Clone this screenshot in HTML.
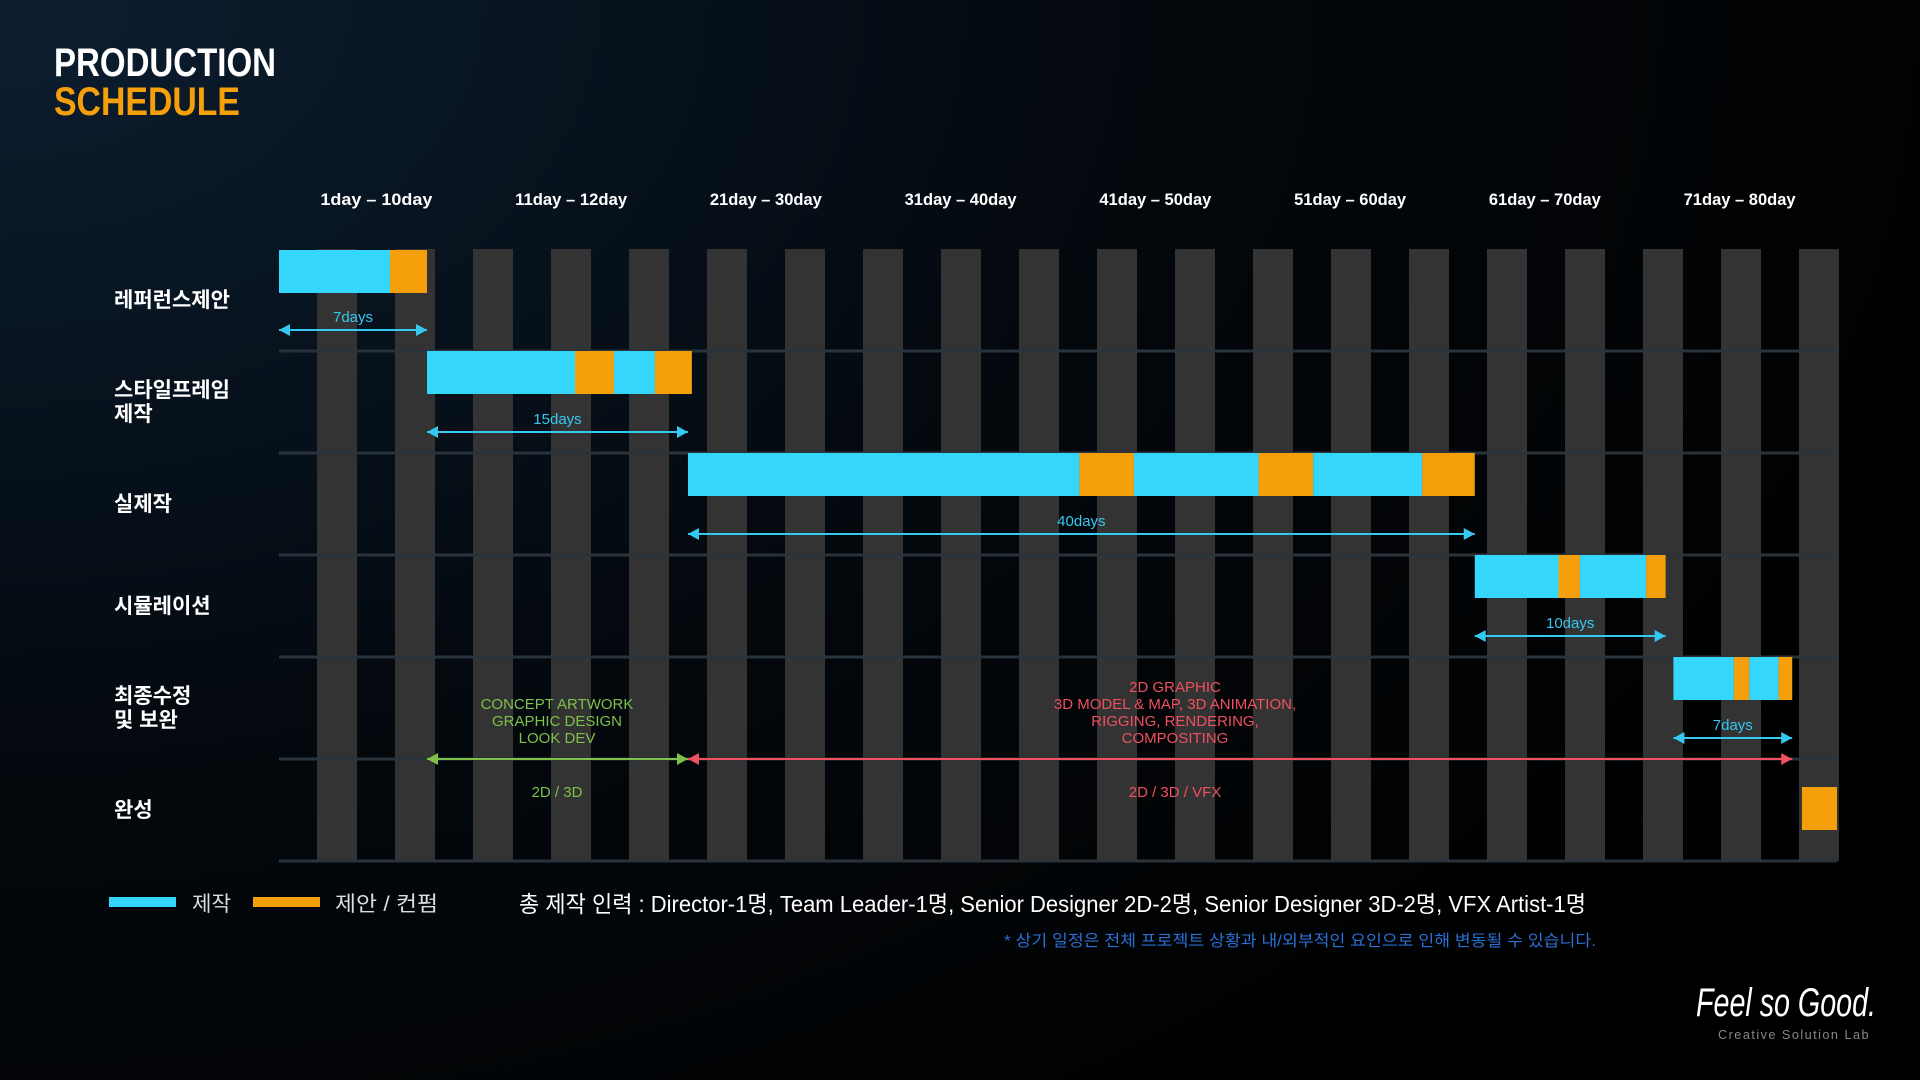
<!DOCTYPE html>
<html><head><meta charset="utf-8"><style>
html,body{margin:0;padding:0;background:#000;}
svg{display:block}
text{font-family:"Liberation Sans","Noto Sans CJK KR",sans-serif;}
</style></head><body>
<svg id="chart" width="1920" height="1080" viewBox="0 0 1920 1080" xmlns="http://www.w3.org/2000/svg">
<defs>
<radialGradient id="bg" cx="0" cy="0" r="1.1" gradientUnits="objectBoundingBox" gradientTransform="scale(1,1.2)">
<stop offset="0" stop-color="#0c1e30"/><stop offset="0.55" stop-color="#03080d"/><stop offset="1" stop-color="#000"/>
</radialGradient>
</defs>
<rect width="1920" height="1080" fill="url(#bg)"/>
<text x="54" y="76" font-size="40" font-weight="bold" fill="#fff" textLength="222" lengthAdjust="spacingAndGlyphs">PRODUCTION</text>
<text x="54" y="115" font-size="40" font-weight="bold" fill="#f5a00a" textLength="186" lengthAdjust="spacingAndGlyphs">SCHEDULE</text>
<g id="stripes"></g><g id="grid"></g><g id="bars"></g><g id="arrows"></g><g id="labels"></g>

<rect x="109" y="897" width="67" height="10" fill="#35d6fc"/>
<text x="192" y="911" font-size="21" fill="#ddd" textLength="39" lengthAdjust="spacingAndGlyphs">제작</text>
<rect x="253" y="897" width="67" height="10" fill="#f5a00a"/>
<text x="335" y="911" font-size="21" fill="#ddd" textLength="103" lengthAdjust="spacingAndGlyphs">제안 / 컨펌</text>
<text x="519" y="912" font-size="23" fill="#fff" textLength="1067" lengthAdjust="spacingAndGlyphs">총 제작 인력 : Director-1명, Team Leader-1명, Senior Designer 2D-2명, Senior Designer 3D-2명, VFX Artist-1명</text>
<text x="1004" y="946" font-size="16" fill="#2a6fd4" textLength="592" lengthAdjust="spacingAndGlyphs">* 상기 일정은 전체 프로젝트 상황과 내/외부적인 요인으로 인해 변동될 수 있습니다.</text>
<text x="1696" y="1016" font-size="40" font-style="italic" fill="#fff" font-family="Liberation Serif, serif" textLength="180" lengthAdjust="spacingAndGlyphs">Feel so Good.</text>
<text x="1718" y="1039" font-size="13" fill="#888" letter-spacing="1.5" textLength="152" lengthAdjust="spacingAndGlyphs">Creative Solution Lab</text>
</svg>
<script>
const periodLabels=["1day – 10day","11day – 12day","21day – 30day","31day – 40day","41day – 50day","51day – 60day","61day – 70day","71day – 80day"];
const rowLabels=[["레퍼런스제안"],["스타일프레임","제작"],["실제작"],["시뮬레이션"],["최종수정","및 보완"],["완성"]];
const segStarts=[[0,5.7],[7.6,15.2,17.2,19.3],[21,41.1,43.9,50.3,53.1,58.7],[61.4,65.7,66.8,70.2],[71.6,74.7,75.5,77],[78.2]];
const segEnds=[[5.7,7.6],[15.2,17.2,19.3,21.2],[41.1,43.9,50.3,53.1,58.7,61.4],[65.7,66.8,70.2,71.2],[74.7,75.5,77,77.7],[80]];
const segTypes=[["p","c"],["p","c","p","c"],["p","c","p","c","p","c"],["p","c","p","c"],["p","c","p","c"],["c"]];
const durStart=[0,7.6,21,61.4,71.6];
const durEnd=[7.6,21,61.4,71.2,77.7];
const durLabels=["7days","15days","40days","10days","7days"];
const phaseStart=[7.6,21];
const phaseEnd=[21,77.7];
const phaseNames=["2D / 3D","2D / 3D / VFX"];
const phaseDesc=[["CONCEPT ARTWORK","GRAPHIC DESIGN","LOOK DEV"],["2D GRAPHIC","3D MODEL & MAP, 3D ANIMATION,","RIGGING, RENDERING,","COMPOSITING"]];

const NS="http://www.w3.org/2000/svg";
const X0=279,X1=1837,Y0=249,RH=102,TOTAL=80;
const x=d=>X0+(X1-X0)*d/TOTAL;
const rowY=i=>Y0+RH*i;
function mk(tag,attrs,parent,txt){const e=document.createElementNS(NS,tag);for(const k in attrs)e.setAttribute(k,attrs[k]);if(txt!==undefined)e.textContent=txt;document.getElementById(parent).appendChild(e);return e;}
for(let k=0;k<20;k++){const e=mk('rect',{x:317+78*k,y:Y0,width:40,height:RH*6,fill:'#333'},'stripes');

}
for(let i=1;i<=6;i++){const e=mk('rect',{x:X0,y:rowY(i)-1.5,width:X1-X0,height:3,fill:'#29333c'},'grid');

}
periodLabels.forEach((t,i)=>{const e=mk('text',{x:x(i*10+5),y:205,'font-size':17,'font-weight':'bold',fill:'#fff','text-anchor':'middle',textLength:112,lengthAdjust:'spacingAndGlyphs'},'labels',t);

});
rowLabels.forEach((lines,i)=>{const cy=rowY(i)+RH/2-(lines.length-1)*12;lines.forEach((l,j)=>{const e=mk('text',{x:114,y:cy+7+j*24,'font-size':21,'font-weight':'bold',fill:'#fff'},'labels',l);

});});
segStarts.forEach((row,i)=>row.forEach((s,j)=>{const top=i==5?rowY(i)+28:rowY(i)+(i==0?1:0);const e=mk('rect',{x:x(s),y:top,width:x(segEnds[i][j])-x(s),height:43,fill:segTypes[i][j]=='p'?'#35d6fc':'#f5a00a'},'bars');

}));
function arrow(a,b,y,col,name,heads){const g=mk('g',{},'arrows');
const l=document.createElementNS(NS,'line');l.setAttribute('x1',a);l.setAttribute('x2',b);l.setAttribute('y1',y);l.setAttribute('y2',y);l.setAttribute('stroke',col);l.setAttribute('stroke-width',2);g.appendChild(l);
if(heads[0]){const p=document.createElementNS(NS,'polygon');p.setAttribute('points',`${a},${y} ${a+11},${y-6} ${a+11},${y+6}`);p.setAttribute('fill',col);g.appendChild(p);}
if(heads[1]){const p=document.createElementNS(NS,'polygon');p.setAttribute('points',`${b},${y} ${b-11},${y-6} ${b-11},${y+6}`);p.setAttribute('fill',col);g.appendChild(p);}}
durStart.forEach((s,i)=>{const y=rowY(i)+81;arrow(x(s),x(durEnd[i]),y,'#35c8f0','duration-arrow',[1,1]);
const e=mk('text',{x:(x(s)+x(durEnd[i]))/2,y:y-8,'font-size':15,fill:'#35c8f0','text-anchor':'middle'},'labels',durLabels[i]);

});
const phaseCol=['#7ec04a','#f0505f'];
phaseStart.forEach((s,i)=>{const y=rowY(5);arrow(x(s),x(phaseEnd[i]),y,phaseCol[i],'phase-arrow',[1,1]);
const cx=i==0?557:1175;
const e=mk('text',{x:cx,y:y+38,'font-size':15,fill:phaseCol[i],'text-anchor':'middle'},'labels',phaseNames[i]);


const lines=phaseDesc[i];const base=y-(lines.length)*17+1;
lines.forEach((l,j)=>{const t=mk('text',{x:cx,y:base+j*17,'font-size':15,fill:phaseCol[i],'text-anchor':'middle'},'labels',l);

});});
</script>
</body></html>
